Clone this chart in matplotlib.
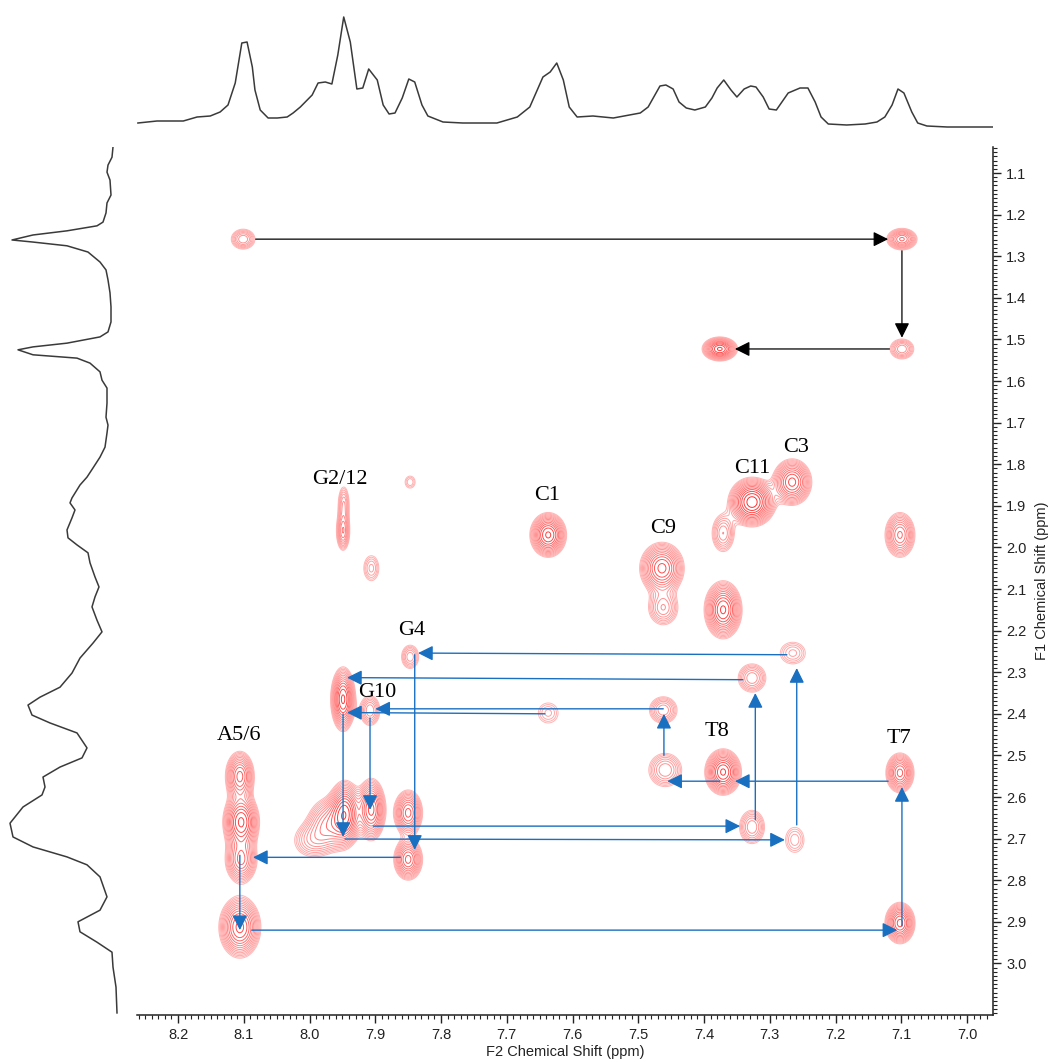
import numpy as np
import matplotlib
matplotlib.use('Agg')
import matplotlib.pyplot as plt
from matplotlib.colors import LinearSegmentedColormap
from matplotlib.ticker import MultipleLocator, FixedLocator, FormatStrFormatter

# ---------------- 1D projections ----------------
top_ppm = [8.261, 8.232, 8.192, 8.171, 8.151, 8.136, 8.124, 8.113, 8.103, 8.095, 8.087, 8.083,
           8.075, 8.063, 8.049, 8.034, 8.025, 8.014, 7.996, 7.987, 7.976, 7.966, 7.957, 7.948,
           7.938, 7.928, 7.919, 7.910, 7.897, 7.888, 7.879, 7.870, 7.859, 7.849, 7.840, 7.829,
           7.820, 7.797, 7.767, 7.715, 7.684, 7.665, 7.645, 7.634, 7.624, 7.614, 7.605, 7.593,
           7.569, 7.538, 7.497, 7.485, 7.467, 7.458, 7.447, 7.438, 7.427, 7.414, 7.398, 7.388,
           7.380, 7.370, 7.359, 7.350, 7.339, 7.329, 7.321, 7.310, 7.301, 7.290, 7.272, 7.254,
           7.242, 7.231, 7.222, 7.211, 7.183, 7.155, 7.137, 7.125, 7.114, 7.105, 7.096, 7.084,
           7.075, 7.061, 7.030, 6.957]
top_int = [5, 7, 7, 11, 12, 16, 23, 45, 85, 86, 61, 38,
           18, 10, 10, 11, 15, 21, 33, 45, 46, 44, 73, 111,
           86, 39, 40, 59, 48, 23, 14, 15, 30, 49, 46, 23,
           12, 6, 5, 5, 11, 21, 51, 56, 65, 48, 21, 11,
           12, 10, 15, 21, 42, 43, 39, 26, 20, 18, 21, 30,
           40, 48, 38, 31, 39, 42, 41, 31, 19, 18, 35, 40,
           40, 26, 11, 4, 3, 4, 6, 11, 23, 39, 35, 16,
           5, 2, 1, 1]

left_ppm = [1.0375, 1.062, 1.081, 1.098, 1.117, 1.153, 1.172, 1.196, 1.218, 1.227, 1.239, 1.249,
            1.261, 1.266, 1.275, 1.290, 1.314, 1.333, 1.357, 1.388, 1.422, 1.458, 1.482, 1.494,
            1.509, 1.518, 1.525, 1.537, 1.545, 1.557, 1.578, 1.598, 1.617, 1.653, 1.687, 1.706,
            1.725, 1.759, 1.783, 1.809, 1.831, 1.850, 1.881, 1.893, 1.910, 1.929, 1.958, 1.977,
            1.994, 2.013, 2.037, 2.071, 2.095, 2.119, 2.143, 2.175, 2.203, 2.230, 2.266, 2.302,
            2.336, 2.360, 2.379, 2.403, 2.422, 2.446, 2.482, 2.506, 2.528, 2.552, 2.576, 2.595,
            2.624, 2.663, 2.696, 2.720, 2.744, 2.763, 2.792, 2.840, 2.872, 2.900, 2.924, 2.949,
            2.973, 3.009, 3.057, 3.119]
left_int = [12, 13, 17, 18, 15, 14, 18, 19, 22, 28, 58, 92,
            113, 92, 58, 37, 25, 19, 17, 15, 14, 14, 17, 25,
            58, 92, 107, 92, 48, 35, 25, 23, 18, 18, 19, 17,
            18, 20, 25, 32, 38, 45, 53, 55, 50, 53, 58, 57,
            48, 37, 35, 30, 26, 30, 33, 28, 23, 32, 45, 53,
            65, 85, 97, 93, 75, 48, 38, 43, 65, 82, 80, 83,
            102, 115, 112, 92, 58, 38, 25, 18, 25, 47, 45, 28,
            13, 12, 9, 8]

# ---------------- 2D cross peaks ----------------
# centre (F2, F1), half-width of outer contour (F2, F1), amplitude (sets ring count)
peak_f2 = [8.101, 7.099, 7.099, 7.376,
           7.949, 7.948, 7.847, 7.906, 7.637, 7.266, 7.327, 7.371, 7.102,
           7.464, 7.462, 7.371, 7.265, 7.327, 7.462, 7.847, 7.949, 7.908, 7.637,
           8.106, 8.104, 8.104, 8.106,
           7.946, 7.972, 7.998, 7.906, 7.850, 7.850,
           7.459, 7.371, 7.102, 7.327, 7.262, 7.102]
peak_f1 = [1.259, 1.259, 1.523, 1.523,
           1.962, 1.895, 1.843, 2.050, 1.970, 1.843, 1.891, 1.966, 1.970,
           2.050, 2.146, 2.150, 2.254, 2.314, 2.391, 2.263, 2.365, 2.392, 2.398,
           2.550, 2.660, 2.752, 2.913,
           2.640, 2.665, 2.705, 2.630, 2.638, 2.750,
           2.535, 2.540, 2.542, 2.672, 2.703, 2.903]
peak_h2 = [0.018, 0.023, 0.018, 0.027,
           0.010, 0.008, 0.0076, 0.0114, 0.028, 0.030, 0.0365, 0.0167, 0.0228,
           0.034, 0.022, 0.029, 0.019, 0.021, 0.021, 0.013, 0.019, 0.015, 0.015,
           0.022, 0.028, 0.024, 0.032,
           0.025, 0.030, 0.024, 0.022, 0.022, 0.022,
           0.025, 0.028, 0.0215, 0.019, 0.014, 0.023]
peak_h1 = [0.024, 0.026, 0.024, 0.029,
           0.045, 0.040, 0.0144, 0.030, 0.054, 0.056, 0.060, 0.044, 0.054,
           0.0625, 0.040, 0.070, 0.026, 0.034, 0.032, 0.028, 0.078, 0.036, 0.024,
           0.060, 0.070, 0.055, 0.0745,
           0.080, 0.060, 0.035, 0.075, 0.055, 0.050,
           0.040, 0.056, 0.048, 0.040, 0.030, 0.050]
peak_amp = [3, 5, 3, 8,
            4, 2.5, 1.6, 2, 8, 7, 10, 3, 5,
            7, 3, 8, 2, 3, 3, 2.5, 8, 3, 1.7,
            6, 8, 5, 7,
            8, 4, 2.2, 7, 6, 6,
            3, 8, 6, 3, 1.8, 7]

# ---------------- annotations ----------------
label_text = ['G2/12', 'C1', 'G4', 'G10', 'C9', 'C11', 'C3', 'A5/6', 'T8', 'T7']
label_f2 = [7.954, 7.639, 7.844, 7.897, 7.462, 7.327, 7.260, 8.107, 7.380, 7.103]
label_f1 = [1.848, 1.886, 2.211, 2.360, 1.965, 1.821, 1.771, 2.463, 2.453, 2.470]

black_x0 = [8.082, 7.099, 7.118]
black_y0 = [1.259, 1.287, 1.523]
black_x1 = [7.120, 7.099, 7.353]
black_y1 = [1.259, 1.496, 1.523]

blue_x0 = [7.274, 7.341, 7.642, 7.462, 7.840, 7.949, 7.908, 7.903, 7.946, 7.862, 8.106, 8.088,
           7.099, 7.120, 7.376, 7.461, 7.322, 7.259]
blue_y0 = [2.258, 2.318, 2.400, 2.388, 2.258, 2.400, 2.410, 2.670, 2.701, 2.745, 2.740, 2.920,
           2.910, 2.562, 2.562, 2.500, 2.655, 2.667]
blue_x1 = [7.835, 7.943, 7.943, 7.900, 7.840, 7.949, 7.908, 7.345, 7.277, 8.086, 8.106, 7.106,
           7.099, 7.353, 7.456, 7.461, 7.322, 7.259]
blue_y1 = [2.254, 2.313, 2.397, 2.388, 2.727, 2.696, 2.631, 2.670, 2.703, 2.745, 2.920, 2.920,
           2.576, 2.562, 2.562, 2.400, 2.350, 2.290]

f1_ticks = [1.1, 1.2, 1.3, 1.4, 1.5, 1.6, 1.7, 1.8, 1.9, 2.0,
            2.1, 2.2, 2.3, 2.4, 2.5, 2.6, 2.7, 2.8, 2.9, 3.0]
f2_ticks = [8.2, 8.1, 8.0, 7.9, 7.8, 7.7, 7.6, 7.5, 7.4, 7.3, 7.2, 7.1, 7.0]

X_LIM = (8.2624, 6.9605)
Y_LIM = (3.124, 1.0375)

W, H = 1055, 1062
fig = plt.figure(figsize=(W / 100, H / 100), dpi=100)

def frac(x0, y0, x1, y1):
    return [x0 / W, 1 - y1 / H, (x1 - x0) / W, (y1 - y0) / H]

ax = fig.add_axes(frac(137, 147, 993, 1015))
ax_top = fig.add_axes(frac(137, 0, 993, 128))
ax_left = fig.add_axes(frac(0, 147, 125, 1015))

# contour map
xs = np.linspace(X_LIM[1], X_LIM[0], 1400)
ys = np.linspace(Y_LIM[1], Y_LIM[0], 1400)
XX, YY = np.meshgrid(xs, ys)
Z = np.zeros_like(XX)
for cx, cy, hx, hy, a in zip(peak_f2, peak_f1, peak_h2, peak_h1, peak_amp):
    k = np.sqrt(2 * np.log(a))
    sx, sy = hx / k, hy / k
    Z += a * np.exp(-0.5 * (((XX - cx) / sx) ** 2 + ((YY - cy) / sy) ** 2))

levels = 1.0 * 1.17 ** np.arange(0, 16)
cmap = LinearSegmentedColormap.from_list('pk', ['#ffb6b6', '#ff8a8a', '#ff2020'])
cols = [cmap(v) for v in np.linspace(0, 1, len(levels))]
ax.contour(XX, YY, Z, levels=levels, colors=cols, linewidths=0.7)

for x0, y0, x1, y1 in zip(black_x0, black_y0, black_x1, black_y1):
    ax.annotate('', xy=(x1, y1), xytext=(x0, y0),
                arrowprops=dict(arrowstyle='-|>,head_length=0.9,head_width=0.45',
                                color='black', lw=0.9, shrinkA=0, shrinkB=0,
                                mutation_scale=10))
for x0, y0, x1, y1 in zip(blue_x0, blue_y0, blue_x1, blue_y1):
    ax.annotate('', xy=(x1, y1), xytext=(x0, y0),
                arrowprops=dict(arrowstyle='-|>,head_length=0.9,head_width=0.45',
                                color='#1a70c0', lw=1.0, shrinkA=0, shrinkB=0,
                                mutation_scale=10))

for t, x, y in zip(label_text, label_f2, label_f1):
    ax.text(x, y, t, ha='center', va='baseline', fontsize=16,
            family='Liberation Serif', color='black')

ax.set_xlim(*X_LIM)
ax.set_ylim(*Y_LIM)
ax.spines['top'].set_visible(False)
ax.spines['left'].set_visible(False)
for s in ('bottom', 'right'):
    ax.spines[s].set_linewidth(1.1)
    ax.spines[s].set_color('#222222')
ax.yaxis.tick_right()
ax.yaxis.set_label_position('right')
ax.xaxis.set_major_locator(FixedLocator(f2_ticks))
ax.xaxis.set_minor_locator(MultipleLocator(0.01))
ax.yaxis.set_major_locator(FixedLocator(f1_ticks))
ax.yaxis.set_minor_locator(MultipleLocator(0.01))
ax.xaxis.set_major_formatter(FormatStrFormatter('%.1f'))
ax.yaxis.set_major_formatter(FormatStrFormatter('%.1f'))
ax.tick_params(which='major', length=5.5, width=1.0, color='#222222',
               labelsize=10.5, labelcolor='#222222', pad=4)
ax.tick_params(which='minor', length=3, width=0.8, color='#222222')
for lab in ax.get_xticklabels() + ax.get_yticklabels():
    lab.set_family('Liberation Sans')
ax.set_xlabel('F2 Chemical Shift (ppm)', fontsize=10.5, family='Liberation Sans',
              color='#222222', labelpad=2)
ax.set_ylabel('F1 Chemical Shift (ppm)', fontsize=10.5, family='Liberation Sans',
              color='#222222', labelpad=6, rotation=90)

ax_top.plot(top_ppm, top_int, color='#3a3a3a', lw=1.1)
ax_top.set_xlim(*X_LIM)
ax_top.set_ylim(0, 128)
ax_top.axis('off')

ax_left.plot(left_int, left_ppm, color='#3a3a3a', lw=1.1)
ax_left.set_xlim(125, 0)
ax_left.set_ylim(*Y_LIM)
ax_left.axis('off')

fig.savefig('out.png', dpi=100)
